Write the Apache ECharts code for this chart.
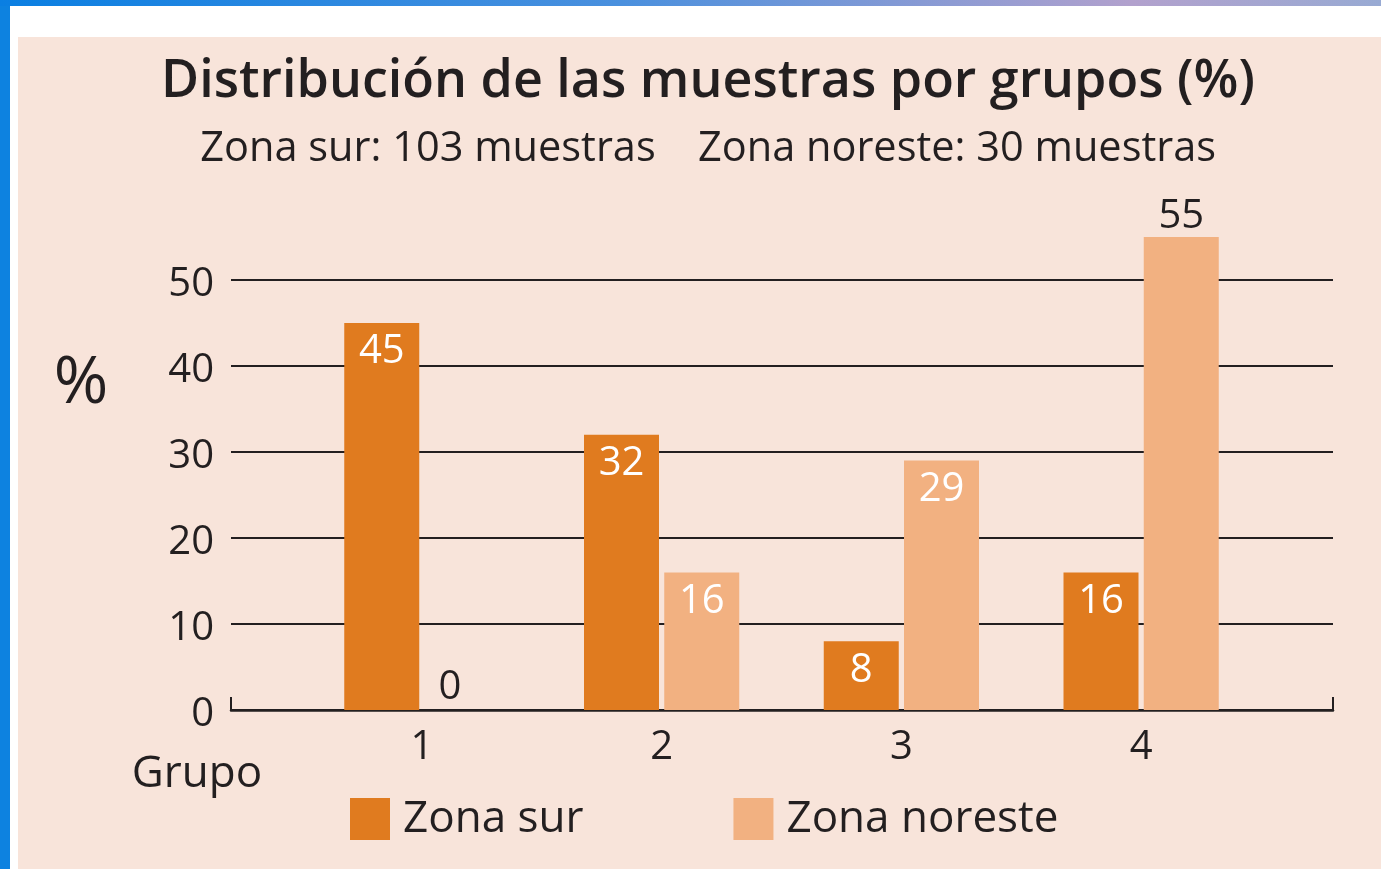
<!DOCTYPE html>
<html>
<head>
<meta charset="utf-8">
<style>
  html, body { margin: 0; padding: 0; background: #fff; }
  #chart { width: 1381px; height: 869px; }
</style>
<script src="https://cdn.jsdelivr.net/npm/echarts@6/dist/echarts.min.js"></script>
</head>
<body>
<div id="chart"></div>
<script>
'use strict';

// datos
var grupos = ['1', '2', '3', '4'];
var zonaSur = [45, 32, 8, 16];
var zonaNoreste = [0, 16, 29, 55];
var yTicks = [0, 10, 20, 30, 40, 50];
var nombres = ['Zona sur', 'Zona noreste'];

var FONT = '"Open Sans", "Noto Sans", sans-serif';
var INK = '#231f20';
var SUR = '#e07b1f';
var NOR = '#f2b181';

var myChart = echarts.init(document.getElementById('chart'));

// etiqueta fuera de la barra si es 0 o pasa la ultima linea
function barData(values) {
    return values.map(function (v) {
        if (v === 0) {
            return { value: v, label: { position: 'top', color: INK, distance: 2, offset: [-12, 0] } };
        }
        if (v > yTicks[yTicks.length - 1]) {
            return { value: v, label: { position: 'top', color: INK, distance: 0 } };
        }
        return v;
    });
}

var option = {
    animation: false,
    textStyle: { fontFamily: FONT },
    graphic: [
        // marco
        { type: 'rect', z: -10, shape: { x: 0, y: 0, width: 1381, height: 869 }, style: { fill: '#fff' } },
        { type: 'rect', z: -9, shape: { x: 0, y: 0, width: 10, height: 869 }, style: { fill: '#0d82e0' } },
        {
            type: 'rect', z: -9, shape: { x: 0, y: 0, width: 1381, height: 6 },
            style: {
                fill: new echarts.graphic.LinearGradient(0, 0, 1, 0, [
                    { offset: 0, color: '#0a7fe2' },
                    { offset: 0.45, color: '#4a90de' },
                    { offset: 0.82, color: '#b2a1cd' },
                    { offset: 1, color: '#98aad3' }
                ])
            }
        },
        { type: 'rect', z: -8, shape: { x: 18, y: 37, width: 1363, height: 832 }, style: { fill: '#f8e4da' } },
        // titulos
        {
            type: 'text', x: 708, y: 82,
            style: { text: 'Distribución de las muestras por grupos (%)', fill: INK, font: '600 52px ' + FONT, align: 'center', verticalAlign: 'middle' }
        },
        {
            type: 'text', x: 428, y: 149,
            style: { text: 'Zona sur: 103 muestras', fill: INK, font: '41.5px ' + FONT, align: 'center', verticalAlign: 'middle' }
        },
        {
            type: 'text', x: 957, y: 149,
            style: { text: 'Zona noreste: 30 muestras', fill: INK, font: '41.5px ' + FONT, align: 'center', verticalAlign: 'middle' }
        },
        {
            type: 'text', x: 81, y: 384,
            style: { text: '%', fill: INK, font: '66px ' + FONT, align: 'center', verticalAlign: 'middle' }
        },
        {
            type: 'text', x: 197, y: 774,
            style: { text: 'Grupo', fill: INK, font: '44px ' + FONT, align: 'center', verticalAlign: 'middle' }
        }
    ],
    legend: {
        data: nombres,
        left: 345,
        top: 792,
        icon: 'rect',
        itemWidth: 40,
        itemHeight: 42,
        itemGap: 150,
        textStyle: { fontFamily: FONT, fontSize: 44, color: INK, padding: [0, 0, 0, 8] }
    },
    grid: [
        { left: 231, right: 48, top: 280, bottom: 159 },
        { left: 302, right: 120, top: 194, bottom: 159 }
    ],
    xAxis: [
        {
            gridIndex: 0, type: 'value', min: 0, max: 1, interval: 1,
            axisLine: { show: true, lineStyle: { color: INK, width: 2.5 } },
            axisTick: { show: true, inside: true, length: 13, lineStyle: { color: INK, width: 2 } },
            axisLabel: { show: false },
            splitLine: { show: false }
        },
        {
            gridIndex: 1, type: 'category', data: grupos,
            axisLine: { show: false },
            axisTick: { show: false },
            axisLabel: { fontFamily: FONT, fontSize: 40, color: INK, margin: 18 }
        }
    ],
    yAxis: [
        {
            gridIndex: 0, type: 'value', min: 0, max: 50, interval: 10,
            axisLine: { show: false },
            axisTick: { show: false },
            axisLabel: {
                fontFamily: FONT, fontSize: 40, color: INK, margin: 17,
                formatter: '{v|{value}}',
                rich: { v: { fontFamily: FONT, fontSize: 40, color: INK, padding: [9, 0, 0, 0] } }
            },
            splitLine: { show: true, lineStyle: { color: INK, width: 2 } }
        },
        {
            gridIndex: 1, type: 'value', min: 0, max: 60, show: false,
            splitLine: { show: false }
        }
    ],
    series: [
        {
            name: nombres[0], type: 'bar', xAxisIndex: 1, yAxisIndex: 1,
            barWidth: 75, barGap: '7%',
            itemStyle: { color: SUR },
            label: { show: true, position: 'insideTop', distance: 9, color: '#fff', fontFamily: FONT, fontSize: 40 },
            data: barData(zonaSur)
        },
        {
            name: nombres[1], type: 'bar', xAxisIndex: 1, yAxisIndex: 1,
            barWidth: 75,
            itemStyle: { color: NOR },
            label: { show: true, position: 'insideTop', distance: 9, color: '#fff', fontFamily: FONT, fontSize: 40 },
            data: barData(zonaNoreste)
        }
    ]
};

myChart.setOption(option);
</script>
</body>
</html>
